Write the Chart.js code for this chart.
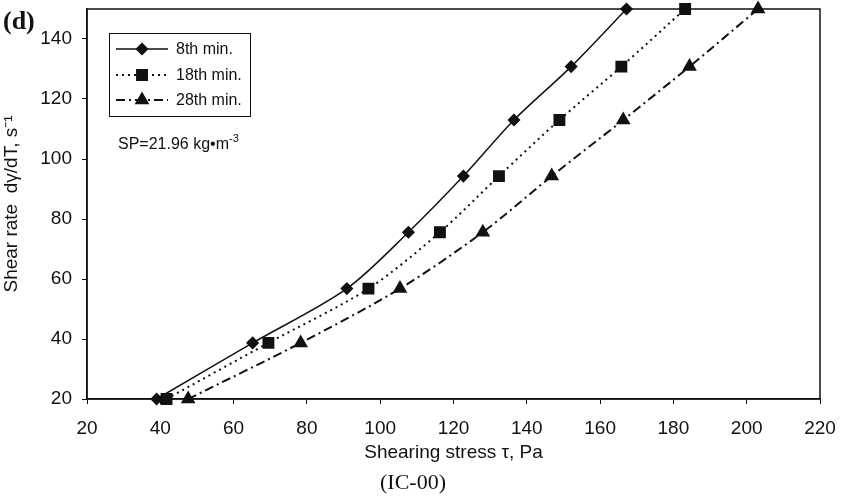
<!DOCTYPE html>
<html>
<head>
<meta charset="utf-8">
<script src="https://cdn.jsdelivr.net/npm/chart.js@4.4.1/dist/chart.umd.min.js"></script>
<style>
  html, body { margin: 0; padding: 0; background: #fff; }
  #wrap { position: relative; width: 841px; height: 501px; }
</style>
</head>
<body>
<div id="wrap"><canvas id="chart" width="841" height="501"></canvas></div>
<script>
// ---------- DATA ----------
const shearRate = [20, 38.7, 56.8, 75.6, 94.3, 113, 130.8, 150];
const stress8 = [39, 65.2, 90.9, 107.7, 122.7, 136.5, 152.1, 167.2];
const stress18 = [41.7, 69.5, 96.8, 116.3, 132.4, 148.9, 165.8, 183.2];
const stress28 = [47.6, 78.3, 105.4, 128.0, 146.8, 166.3, 184.4, 203.1];
const seriesLabels = ["8th min.", "18th min.", "28th min."];
const xTicks = [20, 40, 60, 80, 100, 120, 140, 160, 180, 200, 220];
const yTicks = [20, 40, 60, 80, 100, 120, 140];

const SANS = "'Liberation Sans', Arial, sans-serif";
const SERIF = "'Liberation Serif', 'Times New Roman', serif";
const INK = "#111";

function toPoints(xs) {
  return xs.map((x, i) => ({ x: x, y: shearRate[i] }));
}

// ---------- PLUGINS ----------
const frame = {
  id: "frame",
  afterDatasetsDraw(chart) {
    const { ctx, chartArea: a } = chart;
    ctx.save();
    ctx.strokeStyle = INK;
    ctx.lineWidth = 1.5;
    ctx.strokeRect(a.left, a.top, a.right - a.left, a.bottom - a.top);
    ctx.restore();
  }
};

const extras = {
  id: "extras",
  afterDraw(chart) {
    const { ctx } = chart;
    const h = Chart.helpers;
    ctx.save();

    // legend box
    ctx.strokeStyle = INK;
    ctx.lineWidth = 1;
    ctx.strokeRect(109.5, 33.5, 141, 83);
    chart.data.datasets.forEach((ds, i) => {
      const y = [49, 75, 100][i];
      ctx.strokeStyle = INK;
      ctx.lineWidth = ds.borderWidth;
      ctx.setLineDash(ds.borderDash || []);
      ctx.beginPath();
      ctx.moveTo(116, y);
      ctx.lineTo(168, y);
      ctx.stroke();
      ctx.setLineDash([]);
      ctx.fillStyle = INK;
      h.drawPoint(ctx, { pointStyle: ds.pointStyle, radius: ds.pointRadius, rotation: 0, borderWidth: 1 }, 142, y);
      ctx.fillStyle = INK;
      ctx.font = "16px " + SANS;
      ctx.textBaseline = "middle";
      ctx.textAlign = "left";
      ctx.fillText(ds.label, 176, y + 1);
    });

    // SP annotation
    ctx.font = "16px " + SANS;
    ctx.textBaseline = "alphabetic";
    const sp = "SP=21.96 kg\u2022m";
    ctx.fillText(sp, 118, 149);
    const w = ctx.measureText(sp).width;
    ctx.font = "11px " + SANS;
    ctx.fillText("-3", 118 + w, 142);

    // panel tag
    ctx.font = "bold 26px " + SERIF;
    ctx.fillText("(d)", 3, 29);

    // caption
    ctx.font = "22px " + SERIF;
    ctx.textAlign = "center";
    ctx.fillText("(IC-00)", 413, 489);
    ctx.restore();
  }
};

// ---------- CHART ----------
new Chart(document.getElementById("chart"), {
  type: "scatter",
  data: {
    datasets: [
      {
        label: seriesLabels[0],
        data: toPoints(stress8),
        showLine: true,
        borderColor: INK,
        backgroundColor: INK,
        borderWidth: 1.5,
        pointStyle: "rectRot",
        pointRadius: 5.5,
        tension: 0.3,
        clip: false
      },
      {
        label: seriesLabels[1],
        data: toPoints(stress18),
        showLine: true,
        borderColor: INK,
        backgroundColor: INK,
        borderWidth: 2,
        borderDash: [2, 4],
        pointStyle: "rect",
        pointRadius: 7,
        tension: 0.3,
        clip: false
      },
      {
        label: seriesLabels[2],
        data: toPoints(stress28),
        showLine: true,
        borderColor: INK,
        backgroundColor: INK,
        borderWidth: 2,
        borderDash: [9, 4, 2, 4],
        pointStyle: "triangle",
        pointRadius: 6.5,
        tension: 0.3,
        clip: false
      }
    ]
  },
  options: {
    animation: false,
    responsive: false,
    layout: { padding: { left: 0, top: 8, right: 21, bottom: 0 } },
    plugins: {
      legend: { display: false },
      tooltip: { enabled: false }
    },
    scales: {
      x: {
        type: "linear",
        min: 20,
        max: 220,
        afterBuildTicks: (s) => { s.ticks = xTicks.map(v => ({ value: v })); },
        afterFit: (s) => { s.height = 102; s.paddingLeft = 0; s.paddingRight = 0; },
        grid: { drawOnChartArea: false, drawTicks: true, tickLength: 5, color: INK, lineWidth: 1 },
        border: { color: INK, width: 1.5 },
        ticks: { color: INK, font: { family: SANS, size: 19 }, padding: 13, maxRotation: 0 },
        title: {
          display: true,
          text: "Shearing stress \u03c4, Pa",
          color: INK,
          font: { family: SANS, size: 19 },
          padding: { top: 0, bottom: 37 }
        }
      },
      y: {
        type: "linear",
        min: 20,
        max: 150,
        afterBuildTicks: (s) => { s.ticks = yTicks.map(v => ({ value: v })); },
        afterFit: (s) => { s.width = 87; s.paddingTop = 0; s.paddingBottom = 0; },
        grid: { drawOnChartArea: false, drawTicks: true, tickLength: 5, color: INK, lineWidth: 1 },
        border: { color: INK, width: 1.5 },
        ticks: { color: INK, font: { family: SANS, size: 19 }, padding: 10 },
        title: {
          display: true,
          text: "Shear rate  d\u03b3/dT, s\u207b\u00b9",
          color: INK,
          font: { family: SANS, size: 19 },
          padding: { top: 0, bottom: 0 }
        }
      }
    }
  },
  plugins: [frame, extras]
});
</script>
</body>
</html>
